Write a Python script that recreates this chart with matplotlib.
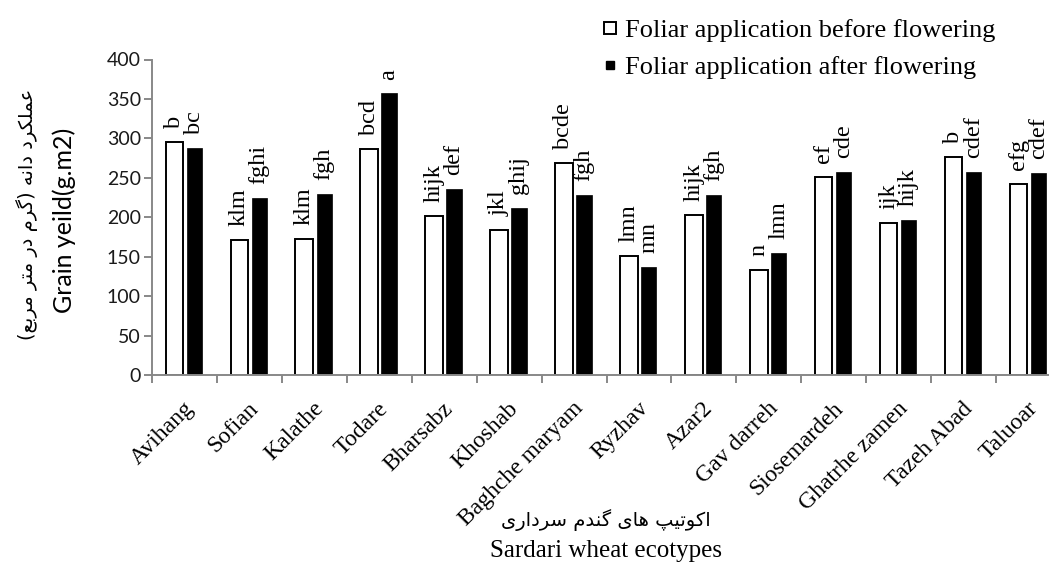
import matplotlib
matplotlib.use("Agg")
import matplotlib.pyplot as plt
from matplotlib.lines import Line2D
from matplotlib.transforms import ScaledTranslation
import numpy as np

# ---------------- data ----------------
categories = ["Avihang", "Sofian", "Kalathe", "Todare", "Bharsabz", "Khoshab",
              "Baghche maryam", "Ryzhav", "Azar2", "Gav darreh", "Siosemardeh",
              "Ghatrhe zamen", "Tazeh Abad", "Taluoar"]
before_flowering = [296, 171, 172, 287, 202, 184, 269, 151, 203, 133, 251, 193, 276, 242]
after_flowering = [288, 224, 230, 357, 236, 212, 228, 137, 228, 155, 257, 197, 257, 256]
letters_before = ["b", "klm", "klm", "bcd", "hijk", "jkl", "bcde", "lmn", "hijk", "n",
                  "ef", "ijk", "b", "efg"]
letters_after = ["bc", "fghi", "fgh", "a", "def", "ghij", "fgh", "mn", "fgh", "lmn",
                 "cde", "hijk", "cdef", "cdef"]
legend_labels = ["Foliar application before flowering", "Foliar application after flowering"]
yticks = [0, 50, 100, 150, 200, 250, 300, 350, 400]
ylabel_en = "Grain yeild(g.m2)"
ylabel_fa = "عملکرد دانه (گرم در متر مربع)"
xlabel_en = "Sardari wheat ecotypes"
xlabel_fa = "اکوتیپ های گندم سرداری"

# ---------------- minimal Persian shaping (visual order) ----------------
FORMS = {
    "ا": ("\uFE8D", "\uFE8E", None, None),
    "ب": ("\uFE8F", "\uFE90", "\uFE91", "\uFE92"),
    "پ": ("\uFB56", "\uFB57", "\uFB58", "\uFB59"),
    "ت": ("\uFE95", "\uFE96", "\uFE97", "\uFE98"),
    "د": ("\uFEA9", "\uFEAA", None, None),
    "ر": ("\uFEAD", "\uFEAE", None, None),
    "س": ("\uFEB1", "\uFEB2", "\uFEB3", "\uFEB4"),
    "ع": ("\uFEC9", "\uFECA", "\uFECB", "\uFECC"),
    "ک": ("\uFB8E", "\uFB8F", "\uFB90", "\uFB91"),
    "گ": ("\uFB92", "\uFB93", "\uFB94", "\uFB95"),
    "ل": ("\uFEDD", "\uFEDE", "\uFEDF", "\uFEE0"),
    "م": ("\uFEE1", "\uFEE2", "\uFEE3", "\uFEE4"),
    "ن": ("\uFEE5", "\uFEE6", "\uFEE7", "\uFEE8"),
    "ه": ("\uFEE9", "\uFEEA", "\uFEEB", "\uFEEC"),
    "و": ("\uFEED", "\uFEEE", None, None),
    "ی": ("\uFBFC", "\uFBFD", "\uFBFE", "\uFBFF"),
}


def shape_fa(s):
    out = []
    for i, c in enumerate(s):
        if c not in FORMS:
            out.append(c)
            continue
        prev = s[i - 1] if i > 0 else ""
        nxt = s[i + 1] if i + 1 < len(s) else ""
        join_prev = prev in FORMS and FORMS[prev][2] is not None
        join_next = FORMS[c][2] is not None and nxt in FORMS
        iso, fin, ini, med = FORMS[c]
        if join_prev and join_next:
            out.append(med)
        elif join_prev:
            out.append(fin)
        elif join_next:
            out.append(ini)
        else:
            out.append(iso)
    vis = "".join(reversed(out))
    return vis.translate(str.maketrans("()", ")("))


SERIF = ["Liberation Serif", "DejaVu Serif"]
SANS = ["Lato", "DejaVu Sans"]
FA = ["DejaVu Sans"]

# ---------------- figure ----------------
fig = plt.figure(figsize=(10.49, 5.72), dpi=100)
W, H = 1049, 572
ax_left, ax_right, ax_top, ax_bottom = 152, 1061, 59.5, 375
ax = fig.add_axes([ax_left / W, 1 - ax_bottom / H, (ax_right - ax_left) / W,
                   (ax_bottom - ax_top) / H])

x = np.arange(len(categories))
ax.bar(x - 0.155, before_flowering, width=0.27, color="white", edgecolor="black",
       linewidth=1.4, zorder=2)
ax.bar(x + 0.152, after_flowering, width=0.235, color="black", edgecolor="black",
       linewidth=0.5, zorder=2)

for xi, v, t in zip(x - 0.155, before_flowering, letters_before):
    ax.annotate(t, (xi, v), xytext=(0, 10), textcoords="offset points", rotation=90,
                ha="center", va="bottom", fontsize=17.5, family=SERIF)
for xi, v, t in zip(x + 0.152, after_flowering, letters_after):
    ax.annotate(t, (xi, v), xytext=(0, 10), textcoords="offset points", rotation=90,
                ha="center", va="bottom", fontsize=17.5, family=SERIF)

ax.set_xlim(-0.5, len(categories) - 0.5)
ax.set_ylim(0, 400)
ax.set_yticks(yticks)
ax.set_yticklabels([str(t) for t in yticks], family=SANS, fontsize=14, color="#1a1a1a")

ax.set_xticks(x)
ax.set_xticklabels(categories, rotation=45, ha="right", rotation_mode="anchor",
                   va="center", family=SERIF, fontsize=17)
ax.tick_params(axis="x", which="major", length=0, pad=22)
ax.set_xticks(np.arange(-0.5, len(categories)), minor=True)
ax.tick_params(axis="x", which="minor", length=6, width=1.4, color="#888888",
               direction="out")
ax.tick_params(axis="y", length=6, width=1.4, color="#888888", direction="out", pad=2)

offset = ScaledTranslation(6 / 100, 0, fig.dpi_scale_trans)
for lab in ax.get_xticklabels():
    lab.set_transform(lab.get_transform() + offset)

for side in ("top", "right"):
    ax.spines[side].set_visible(False)
for side in ("left", "bottom"):
    ax.spines[side].set_color("#888888")
    ax.spines[side].set_linewidth(1.4)

# axis titles
fig.text(64 / W, 1 - 220 / H, ylabel_en, rotation=90, ha="center", va="center",
         family=SANS, fontsize=18)
fig.text(27 / W, 1 - 214 / H, shape_fa(ylabel_fa), rotation=90, ha="center",
         va="center", family=FA, fontsize=14)
fig.text(606 / W, 1 - 520 / H, shape_fa(xlabel_fa), ha="center", va="center",
         family=FA, fontsize=14)
fig.text(606 / W, 1 - 551 / H, xlabel_en, ha="center", va="center",
         family=SERIF, fontsize=18)

# legend
handles = [
    Line2D([], [], marker="s", linestyle="none", markersize=9, markerfacecolor="white",
           markeredgecolor="black", markeredgewidth=1.4),
    Line2D([], [], marker="s", linestyle="none", markersize=6, markerfacecolor="black",
           markeredgecolor="black"),
]
fig.legend(handles, legend_labels, loc="upper left", bbox_to_anchor=(599 / W, 1 - 19 / H),
           frameon=False, prop={"family": SERIF, "size": 19}, handlelength=0.8,
           handletextpad=0.2, labelspacing=0.5, borderpad=0, borderaxespad=0)

fig.savefig("out.png", dpi=100)
